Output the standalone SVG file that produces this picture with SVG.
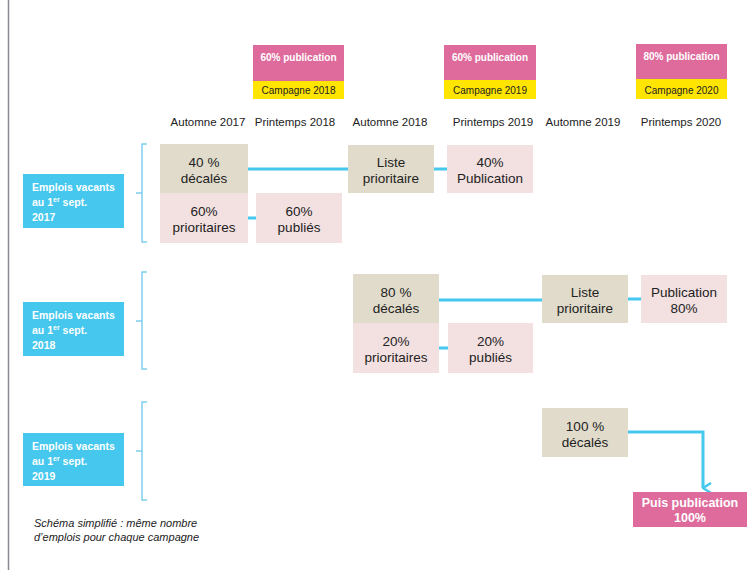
<svg xmlns="http://www.w3.org/2000/svg" width="747" height="570" viewBox="0 0 747 570">
<defs>
<style>
.t{font-family:"Liberation Sans",Arial,sans-serif;fill:#222}
.col{font-size:11.5px;text-anchor:middle}
.box{font-size:13.5px;text-anchor:middle}
.hp{font-size:10px;font-weight:bold;fill:#fff;text-anchor:middle}
.hy{font-size:10px;text-anchor:middle}
.lbl{font-size:10.5px;font-weight:bold;fill:#fff}
.beige{fill:#E0DBCB}
.lpink{fill:#F3E0E0}
.pink{fill:#DE6B9C}
.yellow{fill:#FFE500}
.blue{fill:#45C7EE}
.conn{stroke:#45C7EE;stroke-width:3;fill:none}
.brk{stroke:#7FCFEE;stroke-width:1.5;fill:none}
</style>
<marker id="arr" viewBox="0 0 12 10" refX="6" refY="9" markerWidth="12" markerHeight="10" markerUnits="userSpaceOnUse" orient="auto-start-reverse">
<path d="M1,1 L6,9 L11,1" fill="none" stroke="#45C7EE" stroke-width="2.5"/>
</marker>
</defs>
<rect width="747" height="570" fill="#fff"/>
<line x1="8.5" y1="0" x2="8.5" y2="570" stroke="#8a8a95" stroke-width="1.5"/>

<g id="headers">
<g id="h2018">
<rect class="pink" x="253" y="45" width="91" height="36"/>
<rect class="yellow" x="253" y="81" width="91" height="18"/>
<text class="t hp" x="298.5" y="61">60% publication</text>
<text class="t hy" x="298.5" y="94">Campagne 2018</text>
</g>
<g id="h2019">
<rect class="pink" x="444" y="45" width="92" height="35"/>
<rect class="yellow" x="444" y="80" width="92" height="19"/>
<text class="t hp" x="490" y="61">60% publication</text>
<text class="t hy" x="490" y="94">Campagne 2019</text>
</g>
<g id="h2020">
<rect class="pink" x="636" y="44" width="91" height="35"/>
<rect class="yellow" x="636" y="79" width="91" height="20"/>
<text class="t hp" x="681.5" y="60">80% publication</text>
<text class="t hy" x="681.5" y="94">Campagne 2020</text>
</g>
</g>

<g id="columns">
<text class="t col" x="208" y="126">Automne 2017</text>
<text class="t col" x="295" y="126">Printemps 2018</text>
<text class="t col" x="390" y="126">Automne 2018</text>
<text class="t col" x="493" y="126">Printemps 2019</text>
<text class="t col" x="583" y="126">Automne 2019</text>
<text class="t col" x="681" y="126">Printemps 2020</text>
</g>

<g id="connectors">
<line class="conn" x1="248" y1="169" x2="348" y2="169"/>
<line class="conn" x1="434" y1="169" x2="447" y2="169"/>
<line class="conn" x1="248" y1="218" x2="256" y2="218"/>
<line class="conn" x1="439" y1="300" x2="542" y2="300"/>
<line class="conn" x1="628" y1="299" x2="641" y2="299"/>
<line class="conn" x1="439" y1="348" x2="448" y2="348"/>
<path class="conn" d="M628,432 H703 V488" marker-end="url(#arr)"/>
<path class="brk" d="M147,144 H142 V242 H147 M142,193 H136"/>
<path class="brk" d="M147,272 H142 V369 H147 M142,321 H136"/>
<path class="brk" d="M147,402 H142 V500 H147 M142,451 H136"/>
</g>

<g id="row2017">
<g id="lbl2017">
<rect class="blue" x="23" y="174" width="101" height="54"/>
<text class="t lbl" x="32" y="191">Emplois vacants</text>
<text class="t lbl" x="32" y="206">au 1<tspan font-size="7" dy="-4">er</tspan><tspan dy="4"> sept.</tspan></text>
<text class="t lbl" x="32" y="221">2017</text>
</g>
<g id="dec40">
<rect class="beige" x="160" y="144" width="88" height="49"/>
<text class="t box" x="204" y="167">40 %</text>
<text class="t box" x="204" y="183">décalés</text>
</g>
<g id="prio60">
<rect class="lpink" x="160" y="193" width="88" height="50"/>
<text class="t box" x="204" y="216">60%</text>
<text class="t box" x="204" y="232">prioritaires</text>
</g>
<g id="pub60">
<rect class="lpink" x="256" y="193" width="86" height="50"/>
<text class="t box" x="299" y="216">60%</text>
<text class="t box" x="299" y="232">publiés</text>
</g>
<g id="liste2018">
<rect class="beige" x="348" y="145" width="86" height="48"/>
<text class="t box" x="391" y="167">Liste</text>
<text class="t box" x="391" y="183">prioritaire</text>
</g>
<g id="pub40">
<rect class="lpink" x="447" y="145" width="86" height="48"/>
<text class="t box" x="490" y="167">40%</text>
<text class="t box" x="490" y="183">Publication</text>
</g>
</g>

<g id="row2018">
<g id="lbl2018">
<rect class="blue" x="23" y="302" width="101" height="54"/>
<text class="t lbl" x="32" y="319">Emplois vacants</text>
<text class="t lbl" x="32" y="334">au 1<tspan font-size="7" dy="-4">er</tspan><tspan dy="4"> sept.</tspan></text>
<text class="t lbl" x="32" y="349">2018</text>
</g>
<g id="dec80">
<rect class="beige" x="353" y="274" width="86" height="49"/>
<text class="t box" x="396" y="297">80 %</text>
<text class="t box" x="396" y="313">décalés</text>
</g>
<g id="prio20">
<rect class="lpink" x="353" y="323" width="86" height="50"/>
<text class="t box" x="396" y="346">20%</text>
<text class="t box" x="396" y="362">prioritaires</text>
</g>
<g id="pub20">
<rect class="lpink" x="448" y="323" width="85" height="50"/>
<text class="t box" x="490.5" y="346">20%</text>
<text class="t box" x="490.5" y="362">publiés</text>
</g>
<g id="liste2019">
<rect class="beige" x="542" y="275" width="86" height="48"/>
<text class="t box" x="585" y="297">Liste</text>
<text class="t box" x="585" y="313">prioritaire</text>
</g>
<g id="pub80">
<rect class="lpink" x="641" y="275" width="86" height="48"/>
<text class="t box" x="684" y="297">Publication</text>
<text class="t box" x="684" y="313">80%</text>
</g>
</g>

<g id="row2019">
<g id="lbl2019">
<rect class="blue" x="23" y="433" width="101" height="53"/>
<text class="t lbl" x="32" y="450">Emplois vacants</text>
<text class="t lbl" x="32" y="465">au 1<tspan font-size="7" dy="-4">er</tspan><tspan dy="4"> sept.</tspan></text>
<text class="t lbl" x="32" y="480">2019</text>
</g>
<g id="dec100">
<rect class="beige" x="542" y="408" width="86" height="49"/>
<text class="t box" x="585" y="431">100 %</text>
<text class="t box" x="585" y="447">décalés</text>
</g>
<g id="pub100">
<rect class="pink" x="633" y="492" width="114" height="35"/>
<text class="t box" x="690" y="507" style="font-weight:bold;fill:#fff;font-size:12.5px">Puis publication</text>
<text class="t box" x="690" y="522" style="font-weight:bold;fill:#fff;font-size:12.5px">100%</text>
</g>
</g>

<g id="caption">
<text class="t" x="34" y="527" style="font-size:11px;font-style:italic">Schéma simplifié : même nombre</text>
<text class="t" x="34" y="541" style="font-size:11px;font-style:italic">d’emplois pour chaque campagne</text>
</g>
</svg>
